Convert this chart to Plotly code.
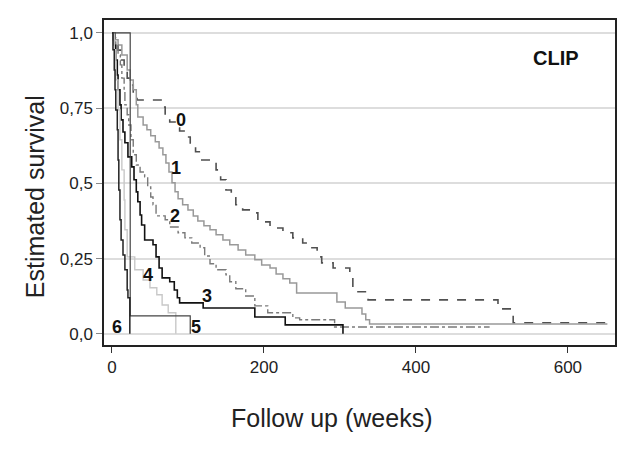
import plotly.graph_objects as go

# Kaplan-Meier step curves by CLIP score (weeks, survival)
t0 = [0, 4, 8, 12, 16, 20, 24, 28, 33, 66, 70, 76, 83, 89, 96, 103, 110, 116, 132, 137, 143, 150, 157, 163, 172, 182, 192, 208, 225, 238, 251, 261, 270, 276, 291, 313, 317, 337, 508, 528, 651]
s0 = [1.0, 0.977, 0.943, 0.910, 0.877, 0.850, 0.827, 0.800, 0.777, 0.754, 0.728, 0.704, 0.684, 0.674, 0.654, 0.628, 0.605, 0.578, 0.571, 0.545, 0.512, 0.478, 0.452, 0.429, 0.412, 0.402, 0.372, 0.352, 0.336, 0.319, 0.302, 0.286, 0.256, 0.236, 0.219, 0.186, 0.140, 0.113, 0.083, 0.037, 0.037]

t1 = [0, 1.3, 8, 13, 20, 24, 28, 32, 34, 41, 46, 51, 57, 62, 67, 71, 75, 79, 83, 87, 93, 100, 107, 113, 121, 129, 137, 146, 155, 166, 176, 188, 197, 208, 216, 225, 234, 243, 296, 307, 329, 334, 339, 652]
s1 = [1.0, 0.977, 0.960, 0.927, 0.877, 0.844, 0.811, 0.761, 0.721, 0.694, 0.678, 0.658, 0.638, 0.618, 0.595, 0.568, 0.538, 0.502, 0.472, 0.449, 0.429, 0.412, 0.392, 0.375, 0.359, 0.346, 0.329, 0.312, 0.296, 0.279, 0.262, 0.246, 0.229, 0.219, 0.199, 0.183, 0.169, 0.136, 0.106, 0.086, 0.066, 0.047, 0.033, 0.033]

t2 = [0, 3, 5, 8, 11, 13, 16, 17, 20, 22, 25, 28, 32, 37, 43, 47, 51, 54, 58, 70, 76, 87, 96, 105, 116, 122, 129, 137, 150, 155, 163, 176, 188, 205, 238, 247, 293, 497]
s2 = [1.0, 0.983, 0.960, 0.927, 0.894, 0.850, 0.811, 0.761, 0.728, 0.694, 0.645, 0.595, 0.561, 0.538, 0.522, 0.488, 0.455, 0.429, 0.392, 0.379, 0.355, 0.336, 0.319, 0.302, 0.286, 0.259, 0.233, 0.213, 0.196, 0.173, 0.150, 0.126, 0.093, 0.070, 0.053, 0.047, 0.023, 0.023]

t3 = [0, 3, 5, 7, 8, 10.5, 12, 14.5, 17, 21, 26, 29, 32, 34, 37, 39, 43, 54, 58, 62, 66, 76, 82, 86, 89, 120, 188, 228, 304]
s3 = [1.0, 0.960, 0.910, 0.860, 0.811, 0.761, 0.711, 0.671, 0.635, 0.588, 0.555, 0.512, 0.472, 0.439, 0.395, 0.362, 0.312, 0.296, 0.256, 0.219, 0.186, 0.173, 0.146, 0.120, 0.103, 0.086, 0.056, 0.030, 0.0]

t4 = [0, 3, 5, 8, 10.5, 13, 16, 17, 20, 30, 41, 50, 59, 66, 74, 84]
s4 = [1.0, 0.944, 0.844, 0.744, 0.645, 0.545, 0.445, 0.346, 0.256, 0.213, 0.179, 0.153, 0.130, 0.096, 0.070, 0.0]

t5 = [0, 24, 103]
s5 = [1.0, 0.06, 0.0]

t6 = [0, 1.3, 3, 4, 5, 7, 8, 9, 10.5, 12, 14.5, 17, 20, 21, 23.5]
s6 = [1.0, 0.944, 0.877, 0.811, 0.744, 0.678, 0.578, 0.478, 0.379, 0.312, 0.262, 0.213, 0.146, 0.120, 0.0]

curve_labels = ["0", "1", "2", "3", "4", "5", "6"]
label_x = [91, 84, 83, 125, 47, 111, 7]
label_y = [0.711, 0.551, 0.392, 0.126, 0.196, 0.022, 0.022]

ytick_vals = [0.0, 0.25, 0.5, 0.75, 1.0]
ytick_text = ["0,0", "0,25", "0,5", "0,75", "1,0"]
xtick_vals = [0, 200, 400, 600]

x_title = "Follow up (weeks)"
y_title = "Estimated survival"
panel_title = "CLIP"

series = [
    (t0, s0, dict(color="#505050", width=1.6, dash="dash")),
    (t1, s1, dict(color="#999999", width=1.5)),
    (t2, s2, dict(color="#7a7a7a", width=1.4, dash="dashdot")),
    (t3, s3, dict(color="#111111", width=1.6)),
    (t4, s4, dict(color="#c8c8c8", width=1.4)),
    (t5, s5, dict(color="#444444", width=1.2)),
    (t6, s6, dict(color="#222222", width=1.5)),
]

FONT = "Liberation Sans, Arial"

fig = go.Figure()
for t, s, ln in series:
    fig.add_trace(go.Scatter(x=t, y=s, mode="lines", line_shape="hv", line=ln,
                             showlegend=False, hoverinfo="skip"))

for lab, lx, ly in zip(curve_labels, label_x, label_y):
    fig.add_annotation(x=lx, y=ly, text="<b>%s</b>" % lab, showarrow=False,
                       xanchor="center", yanchor="middle",
                       font=dict(size=18, color="#111111", family=FONT))

fig.add_annotation(x=585, y=0.917, text="<b>%s</b>" % panel_title, showarrow=False,
                   xanchor="center", yanchor="middle",
                   font=dict(size=20, color="#111111", family=FONT))

# axis titles (offset from plot centre as in the reference)
fig.add_annotation(xref="paper", yref="paper", x=0.446, y=-0.225, text=x_title,
                   xanchor="center", yanchor="middle",
                   showarrow=False, font=dict(size=25, color="#222222", family=FONT))
fig.add_annotation(xref="paper", yref="paper", x=-0.135, y=0.455, text=y_title,
                   xanchor="center", yanchor="middle",
                   textangle=-90, showarrow=False,
                   font=dict(size=25, color="#222222", family=FONT))

# page body has an 8px default margin: shift margins to compensate
fig.update_layout(
    width=640, height=450,
    margin=dict(l=96, r=33, t=12, b=113),
    paper_bgcolor="white", plot_bgcolor="white",
    font=dict(family=FONT, color="#222222"),
    xaxis=dict(range=[-10.5, 662], tickvals=xtick_vals, ticks="outside", ticklen=6,
               tickcolor="#333333", showgrid=False, zeroline=False, automargin=False,
               showline=True, linecolor="#222222", linewidth=1.5, mirror=True,
               tickfont=dict(size=17)),
    yaxis=dict(range=[-0.037, 1.043], tickvals=ytick_vals, ticktext=ytick_text,
               ticks="outside", ticklen=6, tickcolor="#888888", automargin=False,
               showgrid=True, gridcolor="#dddddd", gridwidth=2, zeroline=False,
               showline=True, linecolor="#222222", linewidth=1.5, mirror=True,
               tickfont=dict(size=17)),
)

fig.write_html("out.html")
